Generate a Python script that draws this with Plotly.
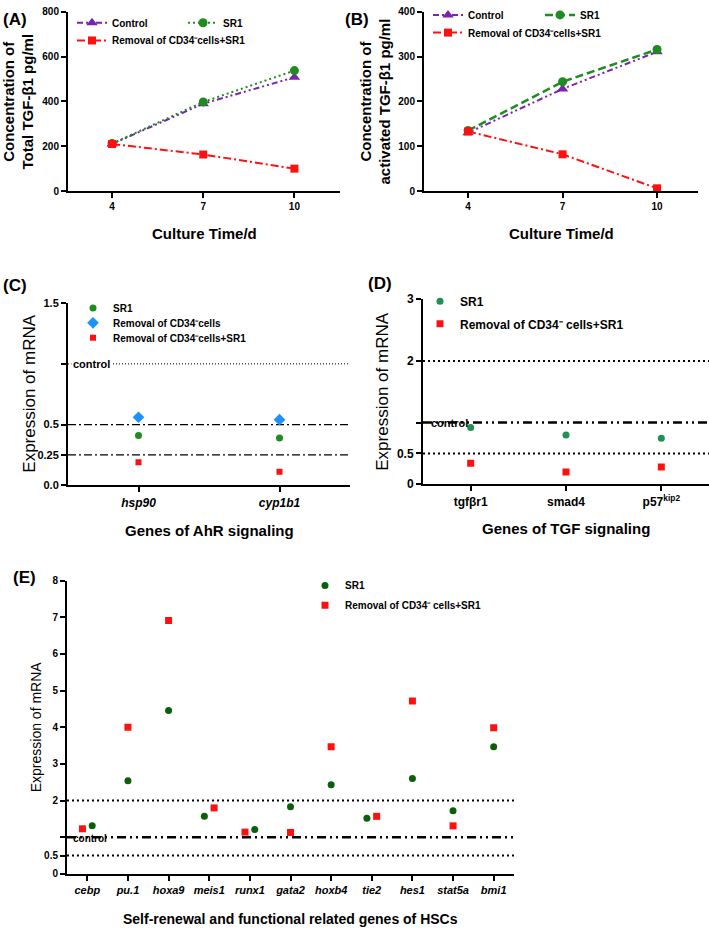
import plotly.graph_objects as go

W, H = 709, 935
FONT = "Arial, Liberation Sans, Helvetica, sans-serif"

# ---------------- data ----------------
days = [4, 7, 10]
a_control = [210, 390, 508]
a_sr1 = [212, 398, 538]
a_removal = [210, 163, 100]

b_control = [130, 228, 311]
b_sr1 = [135, 244, 316]
b_removal = [133, 82, 6]

c_genes = ["hsp90", "cyp1b1"]
c_sr1 = [0.41, 0.39]
c_removal = [0.56, 0.54]
c_removal_sr1 = [0.19, 0.11]

d_genes = ["tgfβr1", "smad4", "p57<sup>kip2</sup>"]
d_sr1 = [0.92, 0.80, 0.745]
d_removal_sr1 = [0.34, 0.20, 0.28]

e_genes = ["cebp", "pu.1", "hoxa9", "meis1", "runx1", "gata2", "hoxb4",
           "tie2", "hes1", "stat5a", "bmi1"]
e_sr1 = [1.31, 2.54, 4.46, 1.57, 1.21, 1.83, 2.43, 1.52, 2.60, 1.72, 3.47]
e_removal_sr1 = [1.23, 4.00, 6.91, 1.80, 1.14, 1.13, 3.47, 1.57, 4.72, 1.31, 3.99]

# style: horizontal jitter used where the two points overlap (category units)
e_jit_sr1 = [0.12, 0, 0, -0.12, 0.12, 0, 0, -0.12, 0, 0, 0]
e_jit_rem = [-0.12, 0, 0, 0.12, -0.12, 0, 0, 0.12, 0, 0, 0]

PURPLE = "#7A22B4"
GREEN = "#1E8C1E"
GREEN_D = "#1F9150"
GREEN_E = "#0B5E0B"
BLUE = "#1E90FF"
RED = "#FF1010"

REM = "Removal of CD34\u207bcells+SR1"
REM_SP = "Removal of CD34\u207b cells+SR1"


def px(x):
    return x / W


def py(y):
    return 1 - y / H


fig = go.Figure()

DASHDOTDOT = "6px,3px,2px,3px,2px,3px"
DASHDOT = "8px,3px,2px,3px"

# ---- A ----
fig.add_trace(go.Scatter(x=days, y=a_control, name="Control", mode="lines+markers",
                         line=dict(color=PURPLE, width=2, dash=DASHDOTDOT),
                         marker=dict(symbol="triangle-up", size=10, color=PURPLE),
                         xaxis="x", yaxis="y", legend="legend14"))
fig.add_trace(go.Scatter(x=days, y=a_sr1, name="SR1", mode="lines+markers",
                         line=dict(color=GREEN, width=2, dash="2px,3px"),
                         marker=dict(symbol="circle", size=9, color=GREEN),
                         xaxis="x", yaxis="y", legend="legend2"))
fig.add_trace(go.Scatter(x=days, y=a_removal, name=REM, mode="lines+markers",
                         line=dict(color=RED, width=2, dash=DASHDOT),
                         marker=dict(symbol="square", size=8, color=RED),
                         xaxis="x", yaxis="y", legend="legend3"))
# ---- B ----
fig.add_trace(go.Scatter(x=days, y=b_control, name="Control", mode="lines+markers",
                         line=dict(color=PURPLE, width=2, dash=DASHDOTDOT),
                         marker=dict(symbol="triangle-up", size=10, color=PURPLE),
                         xaxis="x2", yaxis="y2", legend="legend4"))
fig.add_trace(go.Scatter(x=days, y=b_sr1, name="SR1", mode="lines+markers",
                         line=dict(color=GREEN, width=2.5, dash="8px,4px"),
                         marker=dict(symbol="circle", size=9, color=GREEN),
                         xaxis="x2", yaxis="y2", legend="legend5"))
fig.add_trace(go.Scatter(x=days, y=b_removal, name=REM, mode="lines+markers",
                         line=dict(color=RED, width=2, dash=DASHDOT),
                         marker=dict(symbol="square", size=8, color=RED),
                         xaxis="x2", yaxis="y2", legend="legend6"))
# ---- C ----
c_idx = list(range(len(c_genes)))
fig.add_trace(go.Scatter(x=c_idx, y=c_sr1, name="SR1", mode="markers",
                         marker=dict(symbol="circle", size=7, color=GREEN),
                         xaxis="x3", yaxis="y3", legend="legend7"))
fig.add_trace(go.Scatter(x=c_idx, y=c_removal, name="Removal of CD34\u207bcells", mode="markers",
                         marker=dict(symbol="diamond", size=9, color=BLUE),
                         xaxis="x3", yaxis="y3", legend="legend8"))
fig.add_trace(go.Scatter(x=c_idx, y=c_removal_sr1, name=REM, mode="markers",
                         marker=dict(symbol="square", size=6, color=RED),
                         xaxis="x3", yaxis="y3", legend="legend9"))
# ---- D ----
d_idx = list(range(len(d_genes)))
fig.add_trace(go.Scatter(x=d_idx, y=d_sr1, name="SR1", mode="markers",
                         marker=dict(symbol="circle", size=7, color=GREEN_D),
                         xaxis="x4", yaxis="y4", legend="legend10"))
fig.add_trace(go.Scatter(x=d_idx, y=d_removal_sr1, name=REM_SP, mode="markers",
                         marker=dict(symbol="square", size=7, color=RED),
                         xaxis="x4", yaxis="y4", legend="legend11"))
# ---- E ----
e_idx = list(range(len(e_genes)))
fig.add_trace(go.Scatter(x=[i + j for i, j in zip(e_idx, e_jit_sr1)], y=e_sr1, name="SR1", mode="markers",
                         marker=dict(symbol="circle", size=7, color=GREEN_E),
                         xaxis="x5", yaxis="y5", legend="legend12"))
fig.add_trace(go.Scatter(x=[i + j for i, j in zip(e_idx, e_jit_rem)], y=e_removal_sr1,
                         name=REM_SP, mode="markers",
                         marker=dict(symbol="square", size=7, color=RED),
                         xaxis="x5", yaxis="y5", legend="legend13"))


def axis_common(**kw):
    d = dict(showline=True, linecolor="black", linewidth=2, ticks="outside",
             ticklen=5, tickwidth=1.5, tickcolor="black", showgrid=False,
             zeroline=False, fixedrange=True,
             tickfont=dict(family=FONT, size=10, color="black", weight="bold"))
    d.update(kw)
    return d


MINOR1 = dict(tickvals=[1], ticks="outside", ticklen=5, tickwidth=1.5, tickcolor="black", showgrid=False)

layout = dict(
    width=W, height=H, margin=dict(l=0, r=0, t=0, b=0),
    paper_bgcolor="white", plot_bgcolor="white",
    font=dict(family=FONT, color="black"),
)
# A
layout["xaxis"] = axis_common(domain=[px(68), px(340)], anchor="y", range=[2.55, 11.5],
                              tickvals=days, ticktext=[str(d) for d in days])
layout["yaxis"] = axis_common(domain=[py(186), py(4)], anchor="x", range=[0, 800],
                              tickvals=[0, 200, 400, 600, 800])
# B
layout["xaxis2"] = axis_common(domain=[px(424), px(698)], anchor="y2", range=[2.6, 11.3],
                               tickvals=days, ticktext=[str(d) for d in days])
layout["yaxis2"] = axis_common(domain=[py(186), py(4)], anchor="x2", range=[0, 400],
                               tickvals=[0, 100, 200, 300, 400])
# C
layout["xaxis3"] = axis_common(domain=[px(68), px(350)], anchor="y3", range=[-0.5, 1.5],
                               tickvals=c_idx, ticktext=c_genes,
                               tickfont=dict(family=FONT, size=12, color="black", weight="bold", style="italic"))
layout["yaxis3"] = axis_common(domain=[py(485), py(300)], anchor="x3", range=[0, 1.5],
                               tickvals=[0, 0.25, 0.5, 1.5], ticktext=["0.0", "0.25", "0.5", "1.5"],
                               minor=MINOR1,
                               tickfont=dict(family=FONT, size=11, color="black", weight="bold"))
# D
layout["xaxis4"] = axis_common(domain=[px(423), px(709)], anchor="y4", range=[-0.5, 2.5],
                               tickvals=d_idx, ticktext=d_genes,
                               tickfont=dict(family=FONT, size=12, color="black", weight="bold"))
layout["yaxis4"] = axis_common(domain=[py(484), py(296)], anchor="x4", range=[0, 3],
                               tickvals=[0, 0.5, 2, 3], ticktext=["0", "0.5", "2", "3"],
                               minor=MINOR1,
                               tickfont=dict(family=FONT, size=12, color="black", weight="bold"))
# E
layout["xaxis5"] = axis_common(domain=[px(67), px(514)], anchor="y5", range=[-0.5, 10.5],
                               tickvals=e_idx, ticktext=e_genes,
                               tickfont=dict(family=FONT, size=11, color="black", weight="bold", style="italic"))
layout["yaxis5"] = axis_common(domain=[py(880), py(582)], anchor="x5", range=[0, 8],
                               tickvals=[0, 0.5, 2, 3, 4, 5, 6, 7, 8],
                               ticktext=["0", "0.5", "2", "3", "4", "5", "6", "7", "8"],
                               minor=MINOR1)


# legends
def leg(text_x, y_center, size, weight="bold"):
    return dict(x=px(text_x - 40), y=py(y_center), xanchor="left", yanchor="middle",
                bgcolor="rgba(0,0,0,0)", borderwidth=0, itemwidth=30,
                font=dict(family=FONT, size=size, color="black", weight=weight))


layout["legend14"] = leg(112, 15, 10)
layout["legend2"] = leg(223, 15, 10)
layout["legend3"] = leg(112, 33, 10)
layout["legend4"] = leg(468, 7, 10)
layout["legend5"] = leg(580, 7, 10)
layout["legend6"] = leg(468, 25, 10)
layout["legend7"] = leg(113, 305, 10)
layout["legend8"] = leg(113, 320, 10)
layout["legend9"] = leg(113, 335, 10)
layout["legend10"] = leg(460, 298, 12)
layout["legend11"] = leg(460, 321, 12)
layout["legend12"] = leg(345, 587, 10)
layout["legend13"] = leg(345, 607, 10)

fig.update_layout(**layout)


# reference lines
def hline(axn, y, dash, width):
    fig.add_shape(type="line", xref=f"x{axn} domain", yref=f"y{axn}", x0=0, x1=1, y0=y, y1=y,
                  line=dict(color="black", width=width, dash=dash), layer="below")


hline(3, 1.0, "1px,2px", 1)
hline(3, 0.5, DASHDOT, 1.3)
hline(3, 0.25, DASHDOT, 1.3)
hline(4, 2.0, "2px,3px", 2)
hline(4, 0.5, "2px,3px", 2)
hline(4, 1.0, "9px,4px,2px,4px,2px,4px", 2.5)
hline(5, 2.0, "2px,3px", 2)
hline(5, 0.5, "2px,3px", 2)
hline(5, 1.0, "9px,4px,2px,4px,2px,4px", 2.5)


def ann(text, x, y, size, weight="normal", angle=0, xanchor="center", yref="paper", bg=None):
    fig.add_annotation(text=text, x=x, y=y, xref="paper", yref=yref, showarrow=False,
                       textangle=angle, xanchor=xanchor, yanchor="middle",
                       bgcolor=bg, borderpad=0,
                       font=dict(family=FONT, size=size, color="black", weight=weight))


# titles
ann("Concentration of<br>Total TGF-β1 pg/ml", px(18), py(95), 15, "bold", -90)
ann("Concentration of<br>activated TGF-β1 pg/ml", px(375), py(95), 15, "bold", -90)
ann("Culture Time/d", px(204), py(229), 15, "bold")
ann("Culture Time/d", px(561), py(229), 15, "bold")
ann("Expression of mRNA", px(30), py(392), 17, "normal", -90)
ann("Genes of AhR signaling", px(209), py(531), 15, "bold")
ann("Expression of mRNA", px(383), py(390), 17, "normal", -90)
ann("Genes of TGF signaling", px(566), py(529), 15, "bold")
ann("Expression of mRNA", px(36), py(731), 14, "normal", -90)
ann("Self-renewal and functional related genes of HSCs", px(290), py(926), 14, "bold")

# panel labels
ann("(A)", px(2), py(12), 17, "bold", xanchor="left")
ann("(B)", px(344), py(12), 17, "bold", xanchor="left")
ann("(C)", px(2), py(282), 17, "bold", xanchor="left")
ann("(D)", px(367), py(280), 17, "bold", xanchor="left")
ann("(E)", px(12), py(579), 17, "bold", xanchor="left")

# control labels
fig.add_annotation(text="control", x=px(71), y=1.0, xref="paper", yref="y3", showarrow=False,
                   xanchor="left", yanchor="middle", bgcolor="white", borderpad=1,
                   font=dict(family=FONT, size=11, color="black", weight="bold"))
fig.add_annotation(text="control", x=px(429), y=1.0, xref="paper", yref="y4", showarrow=False,
                   xanchor="left", yanchor="middle",
                   font=dict(family=FONT, size=11, color="black", weight="bold"))
fig.add_annotation(text="control", x=px(71), y=0.97, xref="paper", yref="y5", showarrow=False,
                   xanchor="left", yanchor="middle",
                   font=dict(family=FONT, size=10, color="black", weight="bold"))

fig.write_html("out.html", config={"displayModeBar": False},
               post_script=("document.documentElement.style.margin='0';"
                            "document.documentElement.style.overflow='hidden';"
                            "document.body.style.margin='0';document.body.style.padding='0';"
                            "document.body.style.overflow='hidden';"))
